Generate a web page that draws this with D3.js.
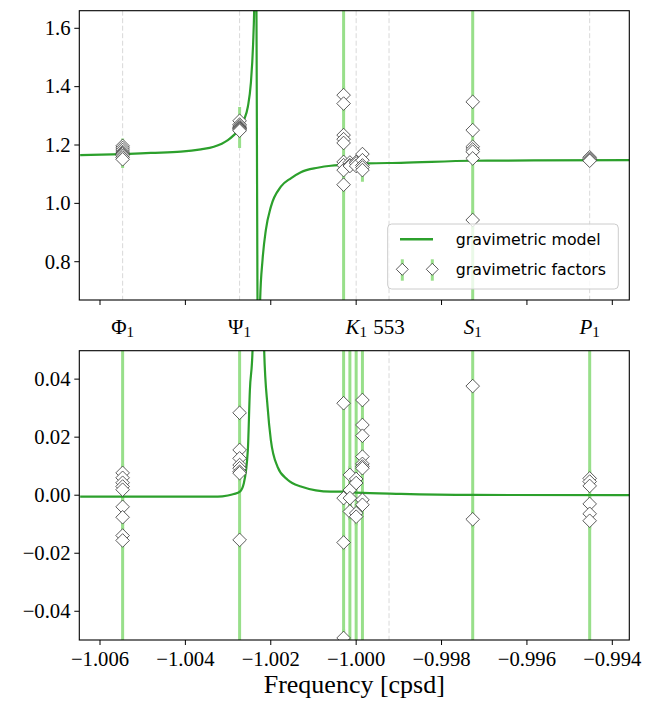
<!DOCTYPE html>
<html>
<head>
<meta charset="utf-8">
<script src="https://cdn.jsdelivr.net/npm/d3@7"></script>
<style>
  body { margin: 0; background: #fff; }
  svg { display: block; }
</style>
</head>
<body>
<svg id="chart" width="658" height="702"></svg>
<script>
// ---- data ---------------------------------------------------------------

// Axis ticks
const xTickValues = [-1.006, -1.004, -1.002, -1.000, -0.998, -0.996, -0.994];
const xTickLabels = ["\u22121.006", "\u22121.004", "\u22121.002", "\u22121.000", "\u22120.998", "\u22120.996", "\u22120.994"];
const topYTickValues = [0.8, 1.0, 1.2, 1.4, 1.6];
const topYTickLabels = ["0.8", "1.0", "1.2", "1.4", "1.6"];
const bottomYTickValues = [-0.04, -0.02, 0.0, 0.02, 0.04];
const bottomYTickLabels = ["\u22120.04", "\u22120.02", "0.00", "0.02", "0.04"];

// Tidal constituents marked along the frequency axis
const tideFreqs   = [-1.00547, -1.00273, -1.0, -0.99923, -0.99727, -0.99453];
const tideSymbols = ["\u03A6", "\u03A8", "K", "553", "S", "P"];
const tideSubs    = ["1", "1", "1", "", "1", "1"];
const tideItalic  = [false, false, true, false, true, true];

// Gravimetric model: real part (upper panel)
const realModelFreq = [
  -1.006465, -1.005458, -1.004809, -1.004106, -1.003638, -1.003333, -1.003005,
  -1.002865, -1.002724, -1.002631, -1.002537, -1.002467, -1.002413, -1.002389,
  -1.002373, -1.002359,
  -1.002289, -1.002268, -1.002249, -1.002193, -1.002115, -1.001998, -1.001764,
  -1.001530, -1.001295, -1.000904, -1.000593, -1.000281, -0.999733, -0.998953,
  -0.997266, -0.995837, -0.993582
];
const realModelValue = [
  1.165, 1.169, 1.173, 1.177, 1.185, 1.194, 1.217,
  1.234, 1.257, 1.285, 1.331, 1.411, 1.549, 1.66,
  1.80, 2.20,
  0.20, 0.55, 0.669, 0.806, 0.909, 0.988, 1.057,
  1.086, 1.107, 1.122, 1.129, 1.1315, 1.137, 1.139,
  1.146, 1.147, 1.148
];

// Gravimetric model: imaginary part (lower panel)
const imagModelFreq = [
  -1.006465, -1.004809, -1.003240, -1.003005, -1.002865, -1.002724, -1.002631,
  -1.002537, -1.002490, -1.002427, -1.002385, -1.002291, -1.002197, -1.002155,
  -1.002075, -1.001998, -1.001841, -1.001607, -1.001295, -1.000593, -1.000288,
  -1.0, -0.998953, -0.997266, -0.993582
];
const imagModelValue = [
  -0.0005, -0.0005, -0.0005, -0.0001, 0.0004, 0.0012, 0.0041,
  0.0156, 0.036, 0.05, 0.08, 0.2, 0.08, 0.05,
  0.0305, 0.019, 0.0098, 0.0053, 0.003, 0.0012, 0.0012,
  0.0009, 0.00045, 0.0001, 0.0
];

// Estimated gravimetric factors, grouped by constituent frequency
const factorFreq = [-1.00547, -1.00273, -1.000294, -1.000147, -1.0, -0.999853, -0.99727, -0.99453];

const realFactors = [
  [1.197, 1.19, 1.183, 1.176, 1.172, 1.168, 1.163, 1.157, 1.151],
  [1.283, 1.27, 1.265, 1.26, 1.257, 1.255, 1.252, 1.249],
  [1.371, 1.342, 1.234, 1.22, 1.207, 1.142, 1.131, 1.114, 1.064],
  [1.14, 1.131, 1.128],
  [1.142, 1.137, 1.128],
  [1.169, 1.148, 1.13, 1.123, 1.114],
  [1.348, 1.251, 1.194, 1.185, 1.177, 1.154, 0.943],
  [1.158, 1.153, 1.149, 1.146]
];
const realErrors = [
  [0.025, 0.02, 0.015, 0.015, 0.015, 0.015, 0.02, 0.02, 0.03],
  [0.02, 0.02, 0.02, 0.07, 0.02, 0.02, 0.02, 0.02],
  [0.03, 0.03, 0.02, 0.02, 0.02, 0.9, 0.02, 0.02, 0.03],
  [0.01, 0.01, 0.01],
  [0.01, 0.01, 0.01],
  [0.01, 0.01, 0.01, 0.01, 0.04],
  [0.02, 0.8, 0.02, 0.02, 0.02, 0.02, 0.03],
  [0.004, 0.004, 0.004, 0.004]
];

const imagFactors = [
  [0.0077, 0.006, 0.0043, 0.003, 0.0019, -0.004, -0.0076, -0.0139, -0.0156],
  [0.0284, 0.0156, 0.0127, 0.0104, 0.0093, 0.0081, 0.0076, -0.0154],
  [0.0317, -0.001, -0.0163, -0.0492],
  [0.007, 0.0018, -0.001, -0.0056],
  [0.0056, 0.0042, -0.0062, -0.0074],
  [0.0328, 0.0242, 0.0205, 0.0133, 0.0108, 0.0099, 0.0093, -0.0016, -0.0033],
  [0.0376, -0.0083],
  [0.0058, 0.0047, 0.0032, -0.003, -0.0064, -0.0088]
];
const imagErrors = [
  [0.003, 0.003, 0.12, 0.003, 0.003, 0.003, 0.003, 0.003, 0.003],
  [0.003, 0.003, 0.003, 0.12, 0.003, 0.003, 0.003, 0.003],
  [0.12, 0.003, 0.003, 0.003],
  [0.003, 0.12, 0.003, 0.003],
  [0.003, 0.12, 0.003, 0.003],
  [0.003, 0.003, 0.003, 0.12, 0.003, 0.003, 0.003, 0.003, 0.003],
  [0.12, 0.003],
  [0.003, 0.003, 0.12, 0.003, 0.003, 0.003]
];

const legendLabels = ["gravimetric model", "gravimetric factors"];

// ---- layout & styles ----------------------------------------------------

const plotLeft = 79.3, plotRight = 629.3;
const topBox = { top: 10.7, bottom: 300 };
const bottomBox = { top: 350.7, bottom: 640 };

const MODEL_COLOR = "#2ca02c";
const ERR_COLOR = "#98df8a";
const GUIDE_COLOR = "#d9d9d9";
const SERIF = "'Liberation Serif', 'Times New Roman', serif";
const SANS = "'DejaVu Sans', sans-serif";
const TICK_FONT = 20.7;

const svg = d3.select("#chart");

const x = d3.scaleLinear().domain([-1.006485, -0.993602]).range([plotLeft, plotRight]);
const yTop = d3.scaleLinear().domain([0.6688, 1.6603]).range([topBox.bottom, topBox.top]);
const yBottom = d3.scaleLinear().domain([-0.0499, 0.0498]).range([bottomBox.bottom, bottomBox.top]);

const diamond = r => `M0,${-r}L${r},0L0,${r}L${-r},0Z`;

function drawPanel(id, box, y, modelFreq, modelValue, factors, errors, yTicks, yLabels) {
  const g = svg.append("g");

  svg.append("clipPath").attr("id", id)
    .append("rect")
    .attr("x", plotLeft).attr("y", box.top)
    .attr("width", plotRight - plotLeft).attr("height", box.bottom - box.top);

  const inner = g.append("g").attr("clip-path", `url(#${id})`);

  // dashed guides at constituent frequencies
  inner.selectAll("line.guide").data(tideFreqs).join("line")
    .attr("class", "guide")
    .attr("x1", d => x(d)).attr("x2", d => x(d))
    .attr("y1", box.top).attr("y2", box.bottom)
    .attr("stroke", GUIDE_COLOR).attr("stroke-width", 1)
    .attr("stroke-dasharray", "5,2.5");

  // flatten factor groups into points
  const pts = [];
  factors.forEach((vals, gi) => vals.forEach((v, k) => {
    pts.push({ f: factorFreq[gi], v: v, e: errors[gi][k] });
  }));

  // error bars
  inner.selectAll("line.err").data(pts).join("line")
    .attr("class", "err")
    .attr("x1", d => x(d.f)).attr("x2", d => x(d.f))
    .attr("y1", d => y(d.v - d.e)).attr("y2", d => y(d.v + d.e))
    .attr("stroke", ERR_COLOR).attr("stroke-width", 3);

  // model curve
  const line = d3.line()
    .x((d, i) => x(modelFreq[i]))
    .y(d => y(d))
    .curve(d3.curveMonotoneX);
  inner.append("path")
    .attr("d", line(modelValue))
    .attr("fill", "none")
    .attr("stroke", MODEL_COLOR)
    .attr("stroke-width", 2.2);

  // factor markers
  inner.selectAll("path.factor").data(pts).join("path")
    .attr("class", "factor")
    .attr("d", diamond(6.8))
    .attr("transform", d => `translate(${x(d.f)},${y(d.v)})`)
    .attr("fill", "#fff")
    .attr("stroke", "#333")
    .attr("stroke-width", 0.8);

  // y axis ticks and labels
  const yt = g.selectAll("g.ytick").data(yTicks).join("g")
    .attr("transform", d => `translate(0,${y(d)})`);
  yt.append("line")
    .attr("x1", plotLeft - 5).attr("x2", plotLeft)
    .attr("stroke", "#000").attr("stroke-width", 1);
  yt.append("text")
    .attr("x", plotLeft - 8.8)
    .attr("dy", "0.33em")
    .attr("text-anchor", "end")
    .attr("font-family", SERIF)
    .attr("font-size", TICK_FONT)
    .text((d, i) => yLabels[i]);

  // x tick marks
  g.selectAll("line.xtick").data(xTickValues).join("line")
    .attr("x1", d => x(d)).attr("x2", d => x(d))
    .attr("y1", box.bottom).attr("y2", box.bottom + 5)
    .attr("stroke", "#000").attr("stroke-width", 1);

  // frame
  g.append("rect")
    .attr("x", plotLeft).attr("y", box.top)
    .attr("width", plotRight - plotLeft).attr("height", box.bottom - box.top)
    .attr("fill", "none").attr("stroke", "#000").attr("stroke-width", 1.1);

  return g;
}

const topG = drawPanel("clip-top", topBox, yTop, realModelFreq, realModelValue,
  realFactors, realErrors, topYTickValues, topYTickLabels);
const bottomG = drawPanel("clip-bottom", bottomBox, yBottom, imagModelFreq, imagModelValue,
  imagFactors, imagErrors, bottomYTickValues, bottomYTickLabels);

// constituent names below the upper panel
tideFreqs.forEach((f, i) => {
  const t = topG.append("text")
    .attr("x", x(f)).attr("y", 333.5)
    .attr("text-anchor", "middle")
    .attr("font-family", SERIF)
    .attr("font-size", 21);
  t.append("tspan")
    .attr("font-style", tideItalic[i] ? "italic" : "normal")
    .text(tideSymbols[i]);
  if (tideSubs[i]) {
    t.append("tspan")
      .attr("font-size", 15)
      .attr("dy", 3.5)
      .text(tideSubs[i]);
  }
});

// frequency tick labels under the lower panel
bottomG.selectAll("text.xlabel").data(xTickValues).join("text")
  .attr("class", "xlabel")
  .attr("x", d => x(d)).attr("y", 666)
  .attr("text-anchor", "middle")
  .attr("font-family", SERIF)
  .attr("font-size", TICK_FONT)
  .text((d, i) => xTickLabels[i]);

svg.append("text")
  .attr("x", (plotLeft + plotRight) / 2).attr("y", 693)
  .attr("text-anchor", "middle")
  .attr("font-family", SERIF)
  .attr("font-size", 26)
  .text("Frequency [cpsd]");

// legend
const lg = svg.append("g");
lg.append("rect")
  .attr("x", 387.7).attr("y", 224)
  .attr("width", 230.6).attr("height", 65)
  .attr("rx", 4)
  .attr("fill", "#fff").attr("fill-opacity", 0.8)
  .attr("stroke", "#cccccc").attr("stroke-width", 1);
lg.append("line")
  .attr("x1", 400).attr("x2", 433).attr("y1", 239.3).attr("y2", 239.3)
  .attr("stroke", MODEL_COLOR).attr("stroke-width", 2.4);
[402.3, 432.3].forEach(cx => {
  lg.append("line")
    .attr("x1", cx).attr("x2", cx).attr("y1", 259.3).attr("y2", 280.7)
    .attr("stroke", ERR_COLOR).attr("stroke-width", 3);
  lg.append("path")
    .attr("d", diamond(6))
    .attr("transform", `translate(${cx},269.3)`)
    .attr("fill", "#fff").attr("stroke", "#333").attr("stroke-width", 0.8);
});
lg.selectAll("text").data(legendLabels).join("text")
  .attr("x", 455.7)
  .attr("y", (d, i) => 245 + i * 30)
  .attr("font-family", SANS)
  .attr("font-size", 15.8)
  .text(d => d);
</script>
</body>
</html>
